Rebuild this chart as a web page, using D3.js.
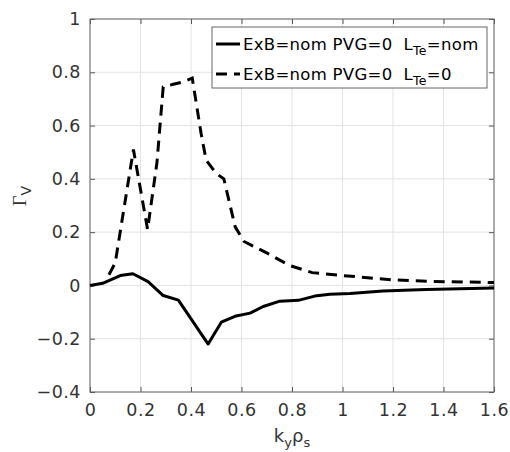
<!DOCTYPE html>
<html>
<head>
<meta charset="utf-8">
<script src="https://cdn.jsdelivr.net/npm/d3@7"></script>
<style>
  body { margin: 0; background: #fff; }
  svg { display: block; font-family: "DejaVu Sans", sans-serif; }
</style>
</head>
<body>
<svg width="510" height="452"></svg>
<script>
// series: L_Te = nom (solid)
var xNom = [0, 0.05, 0.12, 0.17, 0.23, 0.29, 0.35, 0.468, 0.52, 0.574, 0.634, 0.686, 0.752, 0.825, 0.89, 0.95, 1.03, 1.16, 1.33, 1.6];
var yNom = [0, 0.008, 0.037, 0.044, 0.014, -0.038, -0.055, -0.22, -0.138, -0.116, -0.104, -0.079, -0.059, -0.056, -0.04, -0.033, -0.03, -0.021, -0.015, -0.01];

// series: L_Te = 0 (dashed)
var xZero = [0.075, 0.1, 0.172, 0.228, 0.265, 0.29, 0.33, 0.365, 0.405, 0.44, 0.46, 0.5, 0.53, 0.575, 0.61, 0.71, 0.79, 0.88, 0.99, 1.1, 1.2, 1.36, 1.6];
var yZero = [0.04, 0.085, 0.51, 0.21, 0.46, 0.745, 0.755, 0.763, 0.778, 0.57, 0.47, 0.42, 0.4, 0.22, 0.165, 0.117, 0.075, 0.048, 0.038, 0.029, 0.021, 0.015, 0.011];

var xTicks = [0, 0.2, 0.4, 0.6, 0.8, 1, 1.2, 1.4, 1.6];
var yTicks = [-0.4, -0.2, 0, 0.2, 0.4, 0.6, 0.8, 1];

var legendNames = ["ExB=nom PVG=0  L", "ExB=nom PVG=0  L"];
var legendSubs = ["Te", "Te"];
var legendTails = ["=nom", "=0"];

var margin = { top: 19, right: 16, bottom: 60, left: 90 };
var width = 510 - margin.left - margin.right;
var height = 452 - margin.top - margin.bottom;

var svg = d3.select("svg");
var g = svg.append("g")
  .attr("transform", "translate(" + margin.left + "," + margin.top + ")");

var x = d3.scaleLinear().domain([0, 1.6]).range([0, width]);
var y = d3.scaleLinear().domain([-0.4, 1]).range([height, 0]);

// grid
g.selectAll(".gx").data(xTicks).enter().append("line")
  .attr("x1", d => x(d)).attr("x2", d => x(d))
  .attr("y1", 0).attr("y2", height)
  .attr("stroke", "#e3e3e3").attr("stroke-width", 1);
g.selectAll(".gy").data(yTicks).enter().append("line")
  .attr("x1", 0).attr("x2", width)
  .attr("y1", d => y(d)).attr("y2", d => y(d))
  .attr("stroke", "#e3e3e3").attr("stroke-width", 1);

// axes (ticks pointing inwards, matlab style)
var fmt = d3.format("");
function styleAxis(sel, showText) {
  sel.select(".domain").remove();
  sel.selectAll(".tick line").attr("stroke", "#555");
  sel.selectAll(".tick text")
    .attr("fill", "#333")
    .style("font-size", "17.5px")
    .style("letter-spacing", "0.5px")
    .style("font-family", "DejaVu Sans, sans-serif");
  if (!showText) sel.selectAll(".tick text").remove();
}

g.append("g").attr("transform", "translate(0," + height + ")")
  .call(d3.axisBottom(x).tickValues(xTicks).tickFormat(fmt).tickSizeInner(-5).tickSizeOuter(0).tickPadding(12))
  .call(s => styleAxis(s, true));
g.append("g")
  .call(d3.axisTop(x).tickValues(xTicks).tickSizeInner(-5).tickSizeOuter(0))
  .call(s => styleAxis(s, false));
g.append("g")
  .call(d3.axisLeft(y).tickValues(yTicks).tickFormat(d => d3.format("")(d).replace("-", "\u2212")).tickSizeInner(-5).tickSizeOuter(0).tickPadding(9))
  .call(s => styleAxis(s, true));
g.append("g").attr("transform", "translate(" + width + ",0)")
  .call(d3.axisRight(y).tickValues(yTicks).tickSizeInner(-5).tickSizeOuter(0))
  .call(s => styleAxis(s, false));

g.append("rect")
  .attr("width", width).attr("height", height)
  .attr("fill", "none").attr("stroke", "#666").attr("stroke-width", 1);

// lines
var line = d3.line().x(d => x(d[0])).y(d => y(d[1]));

g.append("path")
  .datum(d3.zip(xNom, yNom))
  .attr("d", line)
  .attr("fill", "none").attr("stroke", "#000")
  .attr("stroke-width", 3).attr("stroke-linejoin", "round");

g.append("path")
  .datum(d3.zip(xZero, yZero))
  .attr("d", line)
  .attr("fill", "none").attr("stroke", "#000")
  .attr("stroke-width", 3).attr("stroke-dasharray", "11,7");

// legend
var lg = svg.append("g").attr("transform", "translate(212,27)");
lg.append("rect")
  .attr("width", 275).attr("height", 61)
  .attr("fill", "#fff").attr("stroke", "#666").attr("stroke-width", 1);

var rows = lg.selectAll(".row").data(legendNames).enter().append("g")
  .attr("transform", (d, i) => "translate(0," + (17 + i * 30) + ")");

rows.append("line")
  .attr("x1", 4).attr("x2", 28)
  .attr("y1", 0).attr("y2", 0)
  .attr("stroke", "#000").attr("stroke-width", 3)
  .attr("stroke-dasharray", (d, i) => i === 1 ? "11,7" : null);

var lt = rows.append("text")
  .attr("x", 31).attr("y", 6)
  .style("white-space", "pre")
  .style("letter-spacing", "0.3px")
  .style("font-size", "16.5px").attr("fill", "#000");
lt.append("tspan").text(d => d);
lt.append("tspan").attr("dy", 5).style("font-size", "12.5px").text((d, i) => legendSubs[i]);
lt.append("tspan").attr("dy", -5).text((d, i) => legendTails[i]);

// x label
var xl = svg.append("text")
  .attr("x", 292).attr("y", 442)
  .attr("text-anchor", "middle")
  .style("font-size", "18px").attr("fill", "#333");
xl.append("tspan").text("k");
xl.append("tspan").attr("dy", 5).style("font-size", "13px").text("y");
xl.append("tspan").attr("dy", -5).text("\u03C1");
xl.append("tspan").attr("dy", 5).style("font-size", "13px").text("s");

// y label
var yl = svg.append("text")
  .attr("transform", "translate(26,196) rotate(-90)")
  .attr("text-anchor", "middle")
  .style("font-size", "18px").attr("fill", "#333");
yl.append("tspan").style("font-family", "Liberation Serif, serif").text("\u0393");
yl.append("tspan").attr("dy", 5).style("font-size", "14px").text("V");
</script>
</body>
</html>
